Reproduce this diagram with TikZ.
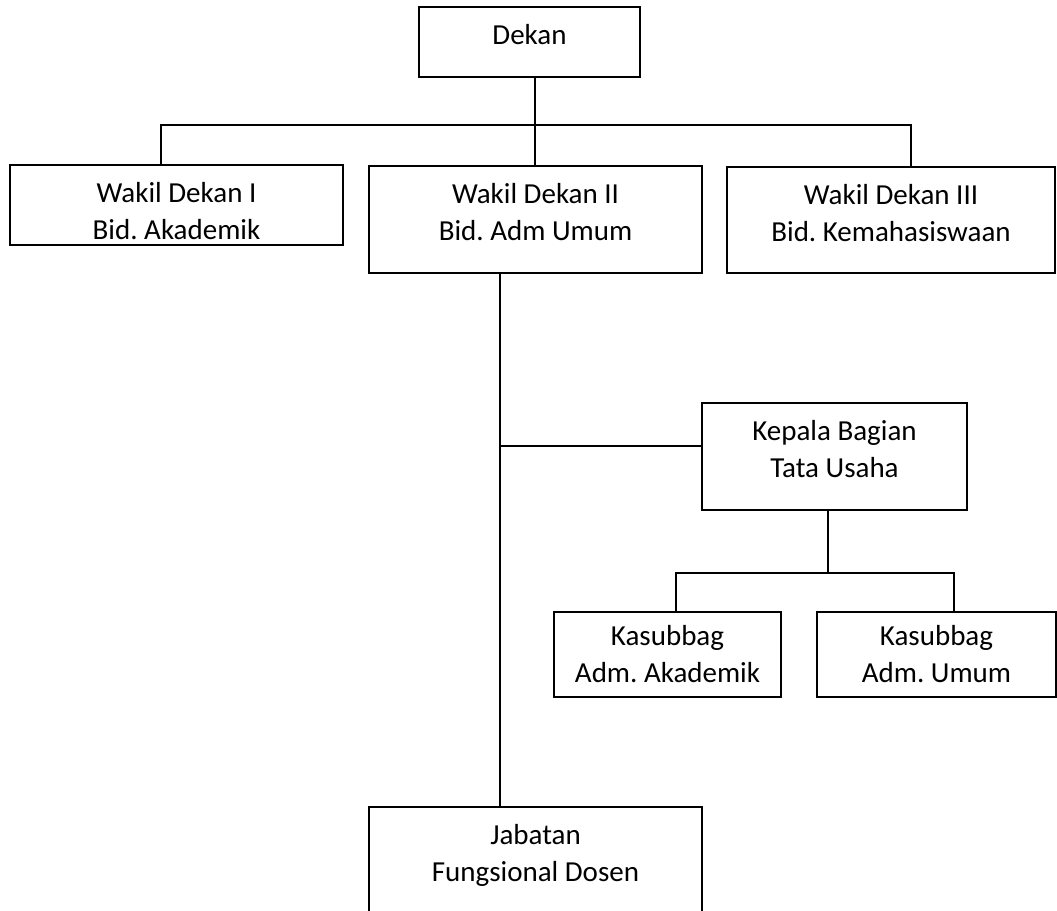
\documentclass[tikz,border=0pt]{standalone}
\usepackage{fontspec}
\setmainfont{Carlito}
\usepackage{tikz}
\frenchspacing

\begin{document}
\begin{tikzpicture}[x=1pt, y=-1pt,
    box/.style={shape=rectangle, draw=black, line width=2pt, align=center,
      inner sep=0pt, text height=74pt, font=\fontsize{29}{37}\selectfont},
    link/.style={draw=black, line width=2pt}]
			\useasboundingbox (0,0) rectangle (1057,910);
			\node[box, minimum width=221, text height=37pt, text depth=33pt] (dekan) at (529.5,42) {Dekan};
			\node[box, minimum width=333, text depth=6pt] (wdi) at (176.5,205) {Wakil Dekan I\\Bid. Akademik};
			\node[box, minimum width=333, text depth=33pt] (wdii) at (535.5,219.5) {Wakil Dekan II\\Bid. Adm Umum};
			\node[box, minimum width=328, text depth=32pt] (wdiii) at (891,220) {Wakil Dekan III\\Bid. Kemahasiswaan};
			\node[box, minimum width=265, text depth=33pt] (kabag) at (834.5,456.5) {Kepala Bagian\\Tata Usaha};
			\node[box, minimum width=227, text height=70pt, text depth=15pt] (ksba) at (667.5,654.5) {Kasubbag\\Adm. Akademik};
			\node[box, minimum width=239, text height=70pt, text depth=15pt] (ksbu) at (936.5,654.5) {Kasubbag\\Adm. Umum};
			\node[box, minimum width=333, text depth=33pt] (jfd) at (535.5,860.5) {Jabatan\\Fungsional Dosen};
			
			\coordinate (top1) at (161,125);
			\coordinate (top3) at (911,125);
			\coordinate (tu) at (500,446);
			\coordinate (sub1) at (676,573);
			\coordinate (sub2) at (954,573);
			
			\path [link] (wdii.north -| 535,0) -- (535,77);
			\path [link] (wdi.north -| top1) -- (top1) -- (top3) -- (wdiii.north -| top3);
			\path [link] (wdii.south -| tu) -- (jfd.north -| tu);
			\path [link] (tu) -- (kabag.west |- tu);
			\path [link] (kabag.south -| 828,0) -- (828,573);
			\path [link] (ksba.north -| sub1) -- (sub1) -- (sub2) -- (ksbu.north -| sub2);
		\end{tikzpicture}
\end{document}
